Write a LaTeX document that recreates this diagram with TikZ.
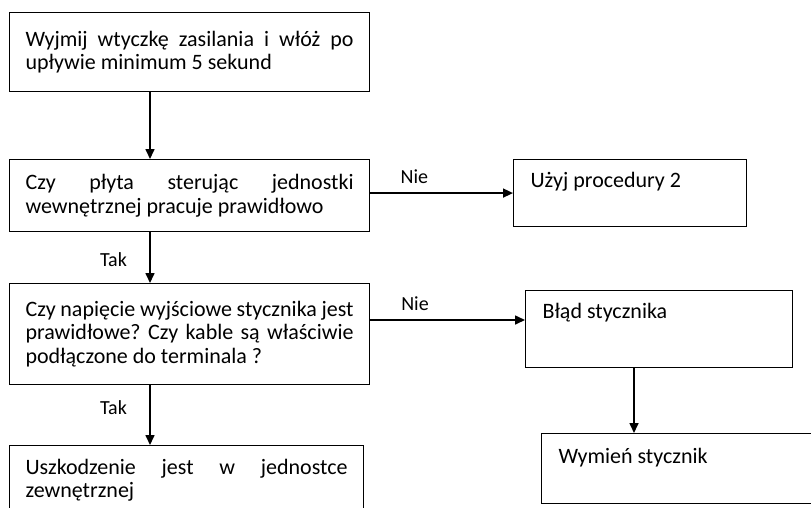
\documentclass[tikz,border=0pt]{standalone}
\usepackage{fontspec}
\setmainfont{Carlito}
\usetikzlibrary{arrows.meta}
\hyphenpenalty=10000
\exhyphenpenalty=10000
\frenchspacing

\begin{document}
\begin{tikzpicture}[x=1pt, y=-1pt, >={Stealth[inset=0pt,length=10pt,width=9pt]},
    every node/.style={font=\fontsize{22pt}{23.5pt}\selectfont},
    stepbox/.style={draw, line width=1.1pt, anchor=north west, text width=#1, align=justify, inner xsep=16pt, inner ysep=4pt},
    sidebox/.style={draw, line width=1.1pt, anchor=north west, text width=#1, align=justify, inner xsep=17pt, inner ysep=14pt, text height=14pt},
    flow/.style={->, line width=1.6pt},
    answer/.style={font=\fontsize{20pt}{24pt}\selectfont}
]
  \useasboundingbox (0,0) rectangle (811,507);
  \clip (0,0) rectangle (811,507);

  \node[stepbox=328pt, minimum height=79pt] (wyjmij) at (9,12) {Wyjmij wtyczkę zasilania i włóż po upływie minimum 5 sekund};
  \node[stepbox=328pt, minimum height=72pt] (plyta) at (9,159) {Czy płyta sterując jednostki wewnętrznej pracuje prawidłowo};
  \node[stepbox=328pt, minimum height=101pt] (napiecie) at (9,283) {Czy napięcie wyjściowe stycznika jest prawidłowe? Czy kable są właściwie podłączone do terminala ?};
  \node[stepbox=322pt, minimum height=69pt] (uszkodzenie) at (9,445) {Uszkodzenie jest w jednostce zewnętrznej};

  \node[sidebox=199pt, text depth=25pt] (uzyj) at (513,159) {Użyj procedury 2};
  \node[sidebox=233pt, text depth=35pt] (blad) at (525,290) {Błąd stycznika};
  \node[sidebox=241pt, text depth=24pt, inner ysep=16pt] (wymien) at (541,433) {Wymień stycznik};

  \coordinate (axis) at ([xshift=141pt]wyjmij.south west);
  \coordinate (bladOut) at ([xshift=109pt]blad.south west);
  \coordinate (napOut) at ([yshift=-37pt]napiecie.north east);

  \draw[flow] (wyjmij.south -| axis) -- (plyta.north -| axis);
  \draw[flow] (plyta.south -| axis) -- node[answer, pos=.55, left=19pt] {Tak} (napiecie.north -| axis);
  \draw[flow] (napiecie.south -| axis) -- node[answer, pos=.38, left=19pt] {Tak} (uszkodzenie.north -| axis);
  \draw[flow] (plyta.east |- uzyj.west) -- node[answer, pos=.31, above=5pt] {Nie} (uzyj.west);
  \draw[flow] (napOut) -- node[answer, pos=.29, above=5pt] {Nie} (napOut -| blad.west);
  \draw[flow] (bladOut) -- (bladOut |- wymien.north);
\end{tikzpicture}
\end{document}
